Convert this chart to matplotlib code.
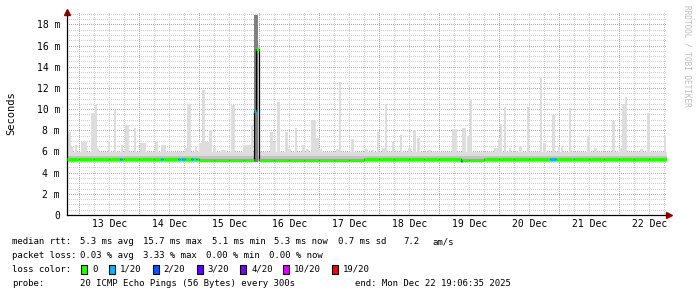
import matplotlib
matplotlib.use("Agg")
import matplotlib.pyplot as plt
import numpy as np

# window: Dec 12 19:06:35 .. Dec 22 19:06:35, x in day-of-December
t_start = 12.796
t_end = 22.796

# median rtt (ms), step starts, with loss index (0 = none, 1 = 1/20)
med_days = [12.796, 13.0, 13.25, 13.5, 13.68, 13.71, 13.75, 14.0, 14.25, 14.36,
            14.39, 14.64, 14.68, 14.72, 14.755, 14.86, 14.89, 14.94, 14.97, 15.0,
            15.25, 15.5, 15.75, 15.915, 15.94, 16.0, 16.25, 16.5, 16.75, 17.0,
            17.25, 17.5, 17.75, 18.0, 18.25, 18.5, 18.75, 19.0, 19.36, 19.385,
            19.5, 19.75, 20.0, 20.25, 20.5, 20.84, 20.95, 21.25, 21.5, 21.75,
            22.0, 22.25, 22.5]
med_ms = [5.30, 5.30, 5.28, 5.25, 5.25, 5.25, 5.28, 5.25, 5.25, 5.25,
          5.25, 5.25, 5.25, 5.25, 5.25, 5.25, 5.25, 5.25, 5.25, 5.20,
          5.15, 5.15, 5.15, 9.80, 15.70, 5.15, 5.20, 5.18, 5.22, 5.20,
          5.17, 5.20, 5.25, 5.28, 5.30, 5.25, 5.28, 5.25, 5.12, 5.15,
          5.20, 5.25, 5.28, 5.30, 5.28, 5.25, 5.28, 5.30, 5.25, 5.30,
          5.28, 5.30, 5.28]
med_loss = [0, 0, 0, 0, 1, 0, 0, 0, 0, 1,
            0, 1, 0, 1, 0, 1, 0, 1, 0, 0,
            0, 0, 0, 1, 0, 0, 0, 0, 0, 0,
            0, 0, 0, 0, 0, 0, 0, 0, 1, 0,
            0, 0, 0, 0, 0, 1, 0, 0, 0, 0,
            0, 0, 0]

# smoke spikes (max ping): centre day, width in hours, height ms
spike_days = [12.833, 12.875, 12.95, 13.083, 13.233, 13.283, 13.317, 13.5, 13.6, 13.717,
              13.8, 13.933, 14.067, 14.283, 14.4, 14.783, 14.833, 14.95, 15.017, 15.067,
              15.133, 15.183, 15.25, 15.4, 15.567, 15.767, 15.85, 15.883, 15.967, 16.2,
              16.25, 16.317, 16.45, 16.5, 16.617, 16.733, 16.8, 16.9, 16.967, 17.017,
              17.3, 17.35, 17.55, 17.783, 17.9, 17.983, 18.067, 18.117, 18.233, 18.367,
              18.5, 18.583, 18.65, 18.833, 19.25, 19.417, 19.483, 19.533, 19.95, 20.0,
              20.025, 20.1, 20.183, 20.35, 20.483, 20.7, 20.75, 20.9, 21.0, 21.05,
              21.183, 21.483, 21.6, 21.9, 22.017, 22.067, 22.117, 22.367, 22.483, 22.767]
spike_hours = [1.2, 0.8, 0.8, 2.4, 1.6, 0.8, 0.8, 0.8, 0.8, 0.8,
               1.6, 0.8, 2.4, 1.2, 2.0, 1.2, 1.6, 0.8, 1.2, 1.2,
               1.6, 1.2, 1.2, 2.0, 1.6, 2.0, 1.6, 0.8, 1.6, 1.2,
               1.2, 1.2, 1.2, 1.2, 0.8, 1.2, 1.2, 2.0, 1.2, 1.2,
               1.2, 0.8, 1.2, 1.2, 0.8, 0.8, 1.2, 0.8, 0.8, 0.8,
               1.2, 1.2, 1.2, 1.2, 2.0, 1.6, 1.2, 0.8, 1.6, 0.8,
               0.8, 0.8, 0.8, 1.2, 0.8, 0.8, 1.2, 1.2, 0.8, 0.8,
               0.8, 1.2, 1.2, 1.2, 1.2, 1.2, 0.8, 1.2, 1.2, 0.8]
spike_ms = [7.85, 6.4, 6.6, 6.9, 9.6, 10.5, 6.3, 7.0, 9.9, 6.6,
            8.5, 8.2, 6.8, 6.9, 6.6, 6.3, 10.5, 6.4, 6.8, 11.8,
            6.9, 8.0, 6.3, 6.1, 10.4, 6.6, 6.6, 8.5, 16.2, 7.85,
            6.9, 10.7, 7.85, 6.2, 8.2, 6.6, 6.2, 9.0, 7.3, 6.2,
            6.2, 12.6, 7.2, 6.2, 6.1, 7.85, 6.3, 10.5, 6.9, 7.6,
            6.3, 8.0, 7.3, 6.1, 8.1, 8.2, 7.5, 11.0, 6.3, 7.2,
            8.6, 10.2, 6.3, 6.5, 10.2, 12.9, 6.8, 9.4, 6.4, 6.5,
            10.1, 7.5, 6.3, 8.9, 6.3, 10.5, 11.1, 6.2, 9.6, 7.5]
# the outage spike, darker smoke
dark_spike_day = [15.95]
dark_spike_ms = [18.9]

smoke_floor = 5.0
smoke_top = 5.95
smoke_mid = 5.55

day_labels = ["13 Dec", "14 Dec", "15 Dec", "16 Dec", "17 Dec",
              "18 Dec", "19 Dec", "20 Dec", "21 Dec", "22 Dec"]
y_ticks = [0, 2, 4, 6, 8, 10, 12, 14, 16, 18]

loss_names = ["0", "1/20", "2/20", "3/20", "4/20", "10/20", "19/20"]
loss_colors = ["#26ff00", "#00b8ff", "#0059ff", "#5e00ff", "#7e00ff", "#dd00ff", "#ff0000"]

rtt_stats = ["5.3 ms avg", "15.7 ms max", "5.1 ms min", "5.3 ms now", "0.7 ms sd", "7.2", "am/s"]
loss_stats = ["0.03 % avg", "3.33 % max", "0.00 % min", "0.00 % now"]

W, H = 697, 297
mono = "DejaVu Sans Mono"
plt.rcParams['font.family'] = mono
FS = 6.5

fig = plt.figure(figsize=(W / 100, H / 100), dpi=100)
ax = fig.add_axes([67 / W, 82 / H, 600 / W, 202.6 / H])
ax.set_xlim(t_start, t_end)
ax.set_ylim(0, 19.13)

# grid, 1px dotted
def gridline(fn, v, color, z):
    ln = fn(v, color=color, lw=0.72, zorder=z)
    ln.set_dashes((1, 2))
    ln.set_antialiased(False)

for v in np.arange(0.5, 19.1, 0.5):
    if v % 2 != 0:
        gridline(ax.axhline, v, "#cccccc", 0)
for d in np.arange(13.0, 22.8, 0.25):
    if d % 1 != 0:
        gridline(ax.axvline, d, "#cccccc", 0)
for v in y_ticks[1:]:
    gridline(ax.axhline, v, "#f09090", 0.5)
for d in range(13, 23):
    gridline(ax.axvline, d, "#f09090", 0.5)

# smoke
ax.fill_between([t_start, t_end], smoke_floor, smoke_top, color="#dddddd", lw=0, zorder=1)
ax.bar(spike_days, np.array(spike_ms) - smoke_floor, bottom=smoke_floor,
       width=np.array(spike_hours) / 24, color="#dddddd", lw=0, zorder=1)
ax.bar(dark_spike_day, np.array(dark_spike_ms) - smoke_floor, bottom=smoke_floor,
       width=1.6 / 24, color="#808080", lw=0, zorder=1.2)
ax.fill_between([t_start, t_end], smoke_floor, smoke_mid, color="#c4c4c4", lw=0, zorder=1.1)

# median line
ends = med_days[1:] + [t_end]
ax.step(med_days + [t_end], med_ms + [med_ms[-1]], where="post", color="black", lw=0.9, zorder=2)
for x0, x1, v, l in zip(med_days, ends, med_ms, med_loss):
    ax.hlines(v, x0, x1, color=loss_colors[l], lw=2.3, zorder=3)

# axes
for s in ["top", "right"]:
    ax.spines[s].set_visible(False)
for s in ["left", "bottom"]:
    ax.spines[s].set_linewidth(0.9)
ax.set_yticks(y_ticks, ["0"] + ["%d m" % v for v in y_ticks[1:]])
ax.set_xticks(np.arange(13.5, 23, 1.0), day_labels)
ax.tick_params(axis="both", length=0, labelsize=7)
ax.tick_params(axis="y", pad=5)
ax.tick_params(axis="x", pad=3)
ax.plot([0], [1.0], marker="^", ms=4, color="#9b0000", transform=ax.transAxes, clip_on=False)
ax.plot([1.004], [0], marker=">", ms=4, color="#9b0000", transform=ax.transAxes, clip_on=False)

fig.text(11 / W, 1 - 113 / H, "Seconds", rotation=90, fontsize=7.5, ha="center", va="center")
fig.text(687 / W, 1 - 5 / H, "RRDTOOL / TOBI OETIKER", rotation=-90, fontsize=5.6,
         color="#bbbbbb", ha="center", va="top")

cw = 5.25
def put(col, y, s, **kw):
    fig.text((12 + col * cw) / W, 1 - y / H, s, fontsize=FS, va="center", **kw)

put(0, 242, "median rtt:")
for c, s in zip([13, 25, 38, 50, 62, 74.5, 80], rtt_stats):
    put(c, 242, s)
put(0, 255.5, "packet loss:")
for c, s in zip([13, 25, 37, 49], loss_stats):
    put(c, 255.5, s)
put(0, 269.5, "loss color:")
box_x = [81, 109, 152.7, 196.7, 240, 283, 332]
for bx, c, name in zip(box_x, loss_colors, loss_names):
    fig.patches.append(plt.Rectangle((bx / W, 1 - 273.7 / H), 6.3 / W, 8.3 / H,
                                     transform=fig.transFigure, facecolor=c,
                                     edgecolor="black", lw=0.8))
    fig.text((bx + 11) / W, 1 - 269.5 / H, name, fontsize=FS, va="center")
put(0, 283.5, "probe:")
put(13, 283.5, "20 ICMP Echo Pings (56 Bytes) every 300s")
fig.text(511 / W, 1 - 283.5 / H, "end: Mon Dec 22 19:06:35 2025", fontsize=FS,
         va="center", ha="right")

fig.savefig("out.png", dpi=100)
